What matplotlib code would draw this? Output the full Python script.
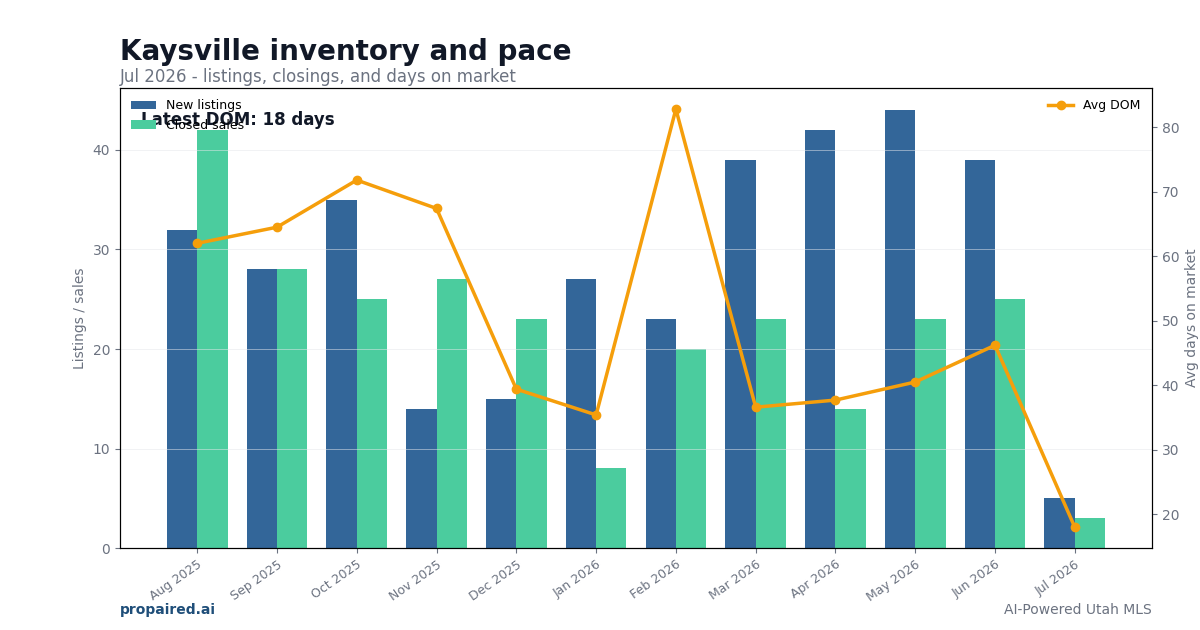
import numpy as np
import matplotlib
matplotlib.use('Agg')
import matplotlib.pyplot as plt

months = ['Aug 2025', 'Sep 2025', 'Oct 2025', 'Nov 2025', 'Dec 2025', 'Jan 2026',
          'Feb 2026', 'Mar 2026', 'Apr 2026', 'May 2026', 'Jun 2026', 'Jul 2026']
new_listings = [32, 28, 35, 14, 15, 27, 23, 39, 42, 44, 39, 5]
closed_sales = [42, 28, 25, 27, 23, 8, 20, 23, 14, 23, 25, 3]
avg_dom = [62.0, 64.5, 71.8, 67.4, 39.4, 35.4, 82.8, 36.6, 37.7, 40.5, 46.2, 18.0]

C_NEW = '#336699'
C_CLOSED = '#4bcc9e'
C_DOM = '#f59e0b'
C_TEXT = '#111827'
C_MUTED = '#6b7280'

fig = plt.figure(figsize=(12, 6.3), dpi=100)
ax = fig.add_axes([0.1, 0.130, 0.86, 0.730])
ax2 = ax.twinx()

x = np.arange(len(months))
w = 0.38
ax.bar(x - w / 2, new_listings, w, color=C_NEW, label='New listings')
ax.bar(x + w / 2, closed_sales, w, color=C_CLOSED, label='Closed sales')
ax2.plot(x, avg_dom, color=C_DOM, linewidth=2.5, marker='o', markersize=6, label='Avg DOM')

ax.set_xticks(x)
ax.set_xticklabels(months, rotation=35, ha='right', rotation_mode='anchor')
ax.set_ylabel('Listings / sales', color=C_MUTED, fontsize=10)
ax2.set_ylabel('Avg days on market', color=C_MUTED, fontsize=10)
ax.grid(axis='y', color='#e5e7eb', linewidth=0.6, alpha=0.6)
for a in (ax, ax2):
    a.tick_params(colors=C_MUTED, labelsize=10)
    a.tick_params(axis='x', labelsize=9)

ax.legend(loc='upper left', fontsize=9, frameon=False)
ax2.legend(loc='upper right', fontsize=9, frameon=False)

ax.text(0.02, 0.93, f'Latest DOM: {avg_dom[-1]:.0f} days', transform=ax.transAxes,
        fontsize=12, fontweight='bold', color=C_TEXT, va='center')

fig.text(0.1, 0.918, 'Kaysville inventory and pace', fontsize=20, fontweight='bold',
         color=C_TEXT, va='center')
fig.text(0.1, 0.877, 'Jul 2026 - listings, closings, and days on market', fontsize=12,
         color=C_MUTED, va='center')
fig.text(0.1, 0.032, 'propaired.ai', fontsize=10, fontweight='bold', color='#1f4e79', va='center')
fig.text(0.96, 0.032, 'AI-Powered Utah MLS', fontsize=10, color=C_MUTED, va='center', ha='right')

fig.savefig('out.png', dpi=100)
